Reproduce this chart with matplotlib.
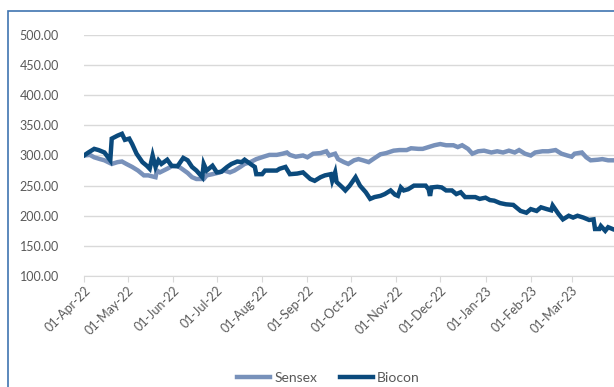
import matplotlib
matplotlib.use('Agg')
import matplotlib.pyplot as plt
import matplotlib.dates as mdates
from matplotlib.patches import Rectangle
import pandas as pd

plt.rcParams['font.family'] = ['Lato', 'DejaVu Sans']

sensex_dates = ['2022-04-01', '2022-04-05', '2022-04-08', '2022-04-12', '2022-04-15', '2022-04-20',
                '2022-04-24', '2022-04-27', '2022-04-30', '2022-05-04', '2022-05-08', '2022-05-12',
                '2022-05-15', '2022-05-20', '2022-05-21', '2022-05-23', '2022-05-28', '2022-05-31',
                '2022-06-04', '2022-06-07', '2022-06-11', '2022-06-14', '2022-06-17', '2022-06-22',
                '2022-06-24', '2022-06-28', '2022-07-03', '2022-07-06', '2022-07-10', '2022-07-13',
                '2022-07-17', '2022-07-20', '2022-07-24', '2022-07-28', '2022-08-02', '2022-08-06',
                '2022-08-11', '2022-08-15', '2022-08-18', '2022-08-20', '2022-08-24', '2022-08-29',
                '2022-09-01', '2022-09-05', '2022-09-10', '2022-09-14', '2022-09-16', '2022-09-20',
                '2022-09-22', '2022-09-26', '2022-09-29', '2022-10-03', '2022-10-06', '2022-10-09',
                '2022-10-13', '2022-10-16', '2022-10-21', '2022-10-25', '2022-10-30', '2022-11-03',
                '2022-11-08', '2022-11-11', '2022-11-16', '2022-11-19', '2022-11-23', '2022-11-27',
                '2022-12-01', '2022-12-05', '2022-12-10', '2022-12-13', '2022-12-16', '2022-12-20',
                '2022-12-23', '2022-12-27', '2022-12-31', '2023-01-05', '2023-01-09', '2023-01-13',
                '2023-01-17', '2023-01-21', '2023-01-24', '2023-01-28', '2023-02-01', '2023-02-04',
                '2023-02-09', '2023-02-13', '2023-02-18', '2023-02-22', '2023-02-26', '2023-03-01',
                '2023-03-03', '2023-03-08', '2023-03-11', '2023-03-14', '2023-03-19', '2023-03-22',
                '2023-03-26', '2023-03-29']
sensex = [300, 301, 297, 294, 292, 286, 289, 290, 286, 281, 275, 267,
          267, 264, 275, 272, 278, 282, 283, 278, 271, 264, 261, 261,
          267, 269, 272, 275, 272, 275, 281, 286, 289, 294, 298, 301,
          301, 303, 305, 301, 298, 300, 297, 303, 304, 307, 300, 303,
          294, 289, 286, 292, 294, 292, 289, 294, 302, 304, 308, 309,
          309, 312, 311, 311, 314, 317, 319, 317, 317, 314, 317, 311,
          303, 307, 308, 305, 307, 305, 308, 305, 309, 303, 300, 305,
          307, 307, 309, 303, 300, 298, 303, 305, 297, 292, 293, 294,
          292, 292]

biocon_dates = ['2022-04-01', '2022-04-04', '2022-04-08', '2022-04-11', '2022-04-15', '2022-04-19',
                '2022-04-20', '2022-04-24', '2022-04-27', '2022-04-29', '2022-05-02', '2022-05-04',
                '2022-05-07', '2022-05-11', '2022-05-14', '2022-05-16', '2022-05-18', '2022-05-20',
                '2022-05-22', '2022-05-24', '2022-05-28', '2022-05-31', '2022-06-04', '2022-06-08',
                '2022-06-11', '2022-06-14', '2022-06-17', '2022-06-21', '2022-06-22', '2022-06-24',
                '2022-06-28', '2022-07-01', '2022-07-04', '2022-07-08', '2022-07-11', '2022-07-15',
                '2022-07-18', '2022-07-20', '2022-07-24', '2022-07-27', '2022-07-28', '2022-08-01',
                '2022-08-03', '2022-08-07', '2022-08-11', '2022-08-13', '2022-08-17', '2022-08-20',
                '2022-08-25', '2022-08-29', '2022-09-03', '2022-09-06', '2022-09-10', '2022-09-13',
                '2022-09-17', '2022-09-18', '2022-09-20', '2022-09-21', '2022-09-25', '2022-09-27',
                '2022-09-30', '2022-10-04', '2022-10-07', '2022-10-11', '2022-10-14', '2022-10-17',
                '2022-10-21', '2022-10-24', '2022-10-28', '2022-10-31', '2022-11-02', '2022-11-04',
                '2022-11-06', '2022-11-09', '2022-11-13', '2022-11-16', '2022-11-21', '2022-11-23',
                '2022-11-24', '2022-11-25', '2022-11-29', '2022-12-02', '2022-12-05', '2022-12-09',
                '2022-12-12', '2022-12-15', '2022-12-18', '2022-12-21', '2022-12-25', '2022-12-28',
                '2023-01-01', '2023-01-04', '2023-01-07', '2023-01-11', '2023-01-15', '2023-01-20',
                '2023-01-25', '2023-01-29', '2023-02-01', '2023-02-05', '2023-02-08', '2023-02-12',
                '2023-02-15', '2023-02-16', '2023-02-20', '2023-02-23', '2023-02-27', '2023-03-02',
                '2023-03-05', '2023-03-09', '2023-03-13', '2023-03-16', '2023-03-17', '2023-03-20',
                '2023-03-21', '2023-03-24', '2023-03-26', '2023-03-29']
biocon = [300, 305, 311, 309, 305, 292, 328, 333, 336, 326, 328, 319,
          303, 289, 283, 278, 300, 281, 292, 286, 293, 283, 282, 296,
          292, 281, 275, 264, 286, 275, 283, 272, 273, 281, 286, 290,
          289, 293, 286, 281, 269, 269, 275, 275, 275, 278, 281, 269,
          270, 272, 261, 258, 264, 267, 269, 258, 272, 256, 247, 242,
          250, 264, 250, 239, 228, 231, 233, 236, 242, 235, 233, 247,
          242, 244, 250, 250, 250, 244, 233, 247, 248, 247, 242, 242,
          236, 239, 231, 231, 231, 228, 230, 226, 225, 221, 219, 218,
          208, 205, 211, 208, 214, 211, 209, 217, 203, 194, 200, 197,
          200, 197, 193, 194, 178, 178, 183, 175, 181, 178]

y_ticks = [100, 150, 200, 250, 300, 350, 400, 450, 500]
x_start = '2022-04-01'
x_end = '2023-03-30'

fig = plt.figure(figsize=(6.14, 3.87), dpi=100)
ax = fig.add_axes([0.1368, 0.2868, 0.8632, 0.6228])

ax.plot(pd.to_datetime(sensex_dates), sensex, color='#7891BA', lw=3.2, label='Sensex', solid_joinstyle='miter')
ax.plot(pd.to_datetime(biocon_dates), biocon, color='#0B4A7C', lw=3.2, label='Biocon', solid_joinstyle='miter')

ax.set_ylim(100, 500)
ax.set_yticks(y_ticks)
ax.yaxis.set_major_formatter(matplotlib.ticker.FormatStrFormatter('%.2f'))
ax.set_xlim(pd.Timestamp(x_start), pd.Timestamp(x_end))
ax.xaxis.set_major_locator(mdates.MonthLocator(bymonthday=1))
ax.xaxis.set_major_formatter(mdates.DateFormatter('%d-%b-%y'))

ax.grid(axis='y', color='#D9D9D9', lw=1)
ax.set_axisbelow(True)
for s in ['top', 'right', 'left']:
    ax.spines[s].set_visible(False)
ax.spines['bottom'].set_color('#D9D9D9')
ax.tick_params(axis='y', length=0, labelsize=9, labelcolor='#595959', pad=18)
ax.tick_params(axis='x', length=4, color='#D9D9D9', labelsize=9, labelcolor='#595959', pad=2)
plt.setp(ax.get_xticklabels(), rotation=45, ha='right', rotation_mode='anchor')

fig.legend(loc='lower center', bbox_to_anchor=(0.535, -0.025), ncol=2, frameon=False,
           fontsize=10, labelcolor='#595959', handlelength=2.4, columnspacing=1.6, handletextpad=0.3)

fig.patches.append(Rectangle((8 / 614, -0.1), 1.1, 1.1 - 11 / 387, transform=fig.transFigure,
                             fill=False, edgecolor='#3F74B0', lw=1.2))

fig.savefig('out.png', dpi=100)
